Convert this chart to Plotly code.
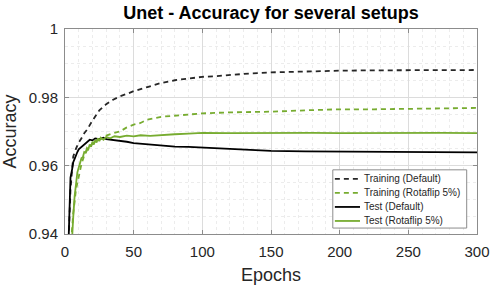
import plotly.graph_objects as go

# Training (Default)
ep_train_def = [1, 3, 4, 5, 6, 8, 10, 12, 14, 16, 18, 20, 25, 30, 35, 40, 45, 50, 60, 70, 80, 90,
                100, 110, 120, 135, 150, 175, 200, 225, 250, 275, 300]
acc_train_def = [0.920, 0.945, 0.953, 0.958, 0.9627, 0.965, 0.9668, 0.968, 0.9695, 0.9705, 0.972, 0.9732,
                 0.9762, 0.978, 0.9793, 0.9803, 0.981, 0.9818, 0.983, 0.9842, 0.985, 0.9855,
                 0.9860, 0.9862, 0.9866, 0.9870, 0.9873, 0.9876, 0.9878, 0.9879, 0.9880, 0.9881, 0.9880]

# Training (Rotaflip 5%)
ep_train_rot = [3, 5, 6, 8, 10, 12, 14, 16, 18, 20, 25, 30, 35, 40, 45, 50, 55, 60, 70, 80, 90,
                100, 120, 135, 150, 175, 200, 225, 250, 275, 300]
acc_train_rot = [0.930, 0.940, 0.946, 0.953, 0.957, 0.9605, 0.963, 0.9645, 0.9655, 0.9665, 0.9676, 0.9688,
                 0.9695, 0.970, 0.9712, 0.972, 0.9725, 0.9735, 0.9743, 0.9746, 0.975,
                 0.9753, 0.9756, 0.9757, 0.9758, 0.9762, 0.9765, 0.9765, 0.9767, 0.9767, 0.9769]

# Test (Default)
ep_test_def = [2, 3, 4, 5, 6, 7, 8, 9, 10, 12, 14, 16, 18, 20, 22, 25, 28, 30, 35, 40, 45, 50, 60, 70,
               80, 90, 100, 110, 120, 135, 150, 175, 200, 225, 250, 275, 300]
acc_test_def = [0.930, 0.945, 0.9565, 0.9585, 0.961, 0.962, 0.9632, 0.964, 0.9648, 0.9655, 0.9662, 0.967,
                0.9676, 0.9674, 0.968, 0.9678, 0.9682, 0.9678, 0.9676, 0.9672, 0.967, 0.9666, 0.9662,
                0.9658, 0.9656, 0.9655, 0.9653, 0.965, 0.9648, 0.9646, 0.9643, 0.9642, 0.9641, 0.964,
                0.964, 0.9639, 0.9639]

# Test (Rotaflip 5%)
ep_test_rot = [4, 5, 6, 7, 8, 9, 10, 11, 12, 13, 14, 15, 16, 17, 18, 19, 20, 21, 22, 23, 24, 25, 26,
               28, 30, 33, 36, 40, 45, 50, 55, 62, 70, 80, 90, 100, 120, 140, 160, 180, 200, 225,
               250, 275, 300]
acc_test_rot = [0.930, 0.940, 0.945, 0.951, 0.9555, 0.958, 0.9595, 0.961, 0.9622, 0.9625, 0.964, 0.9638,
                0.9652, 0.9648, 0.9662, 0.9655, 0.967, 0.9662, 0.9675, 0.9668, 0.968, 0.9672, 0.9682,
                0.9676, 0.9684, 0.968, 0.9686, 0.9684, 0.9688, 0.9686, 0.9689, 0.9687, 0.969, 0.9692,
                0.9694, 0.9696, 0.9695, 0.9696, 0.9695, 0.9696, 0.9695, 0.9696, 0.9695, 0.9696, 0.9695]

series_names = ["Training (Default)", "Training (Rotaflip 5%)", "Test (Default)", "Test (Rotaflip 5%)"]

x_ticks = [0, 50, 100, 150, 200, 250, 300]
y_ticks = [0.94, 0.96, 0.98, 1.0]
y_tick_labels = ["0.94", "0.96", "0.98", "1"]

GREEN = "#77AC30"
DARK = "#262626"
FONT = "Liberation Sans, Arial, sans-serif"
DASH = "5px,4px"

styles = [
    dict(color=DARK, width=1.8, dash=DASH),
    dict(color=GREEN, width=1.8, dash=DASH),
    dict(color="black", width=1.8, dash="solid"),
    dict(color=GREEN, width=1.8, dash="solid"),
]
xs = [ep_train_def, ep_train_rot, ep_test_def, ep_test_rot]
ys = [acc_train_def, acc_train_rot, acc_test_def, acc_test_rot]

fig = go.Figure()
for name, x, y, st in zip(series_names, xs, ys, styles):
    fig.add_trace(go.Scatter(x=x, y=y, mode="lines", name=name, line=st, showlegend=False))

# Manual MATLAB-style legend (compact rows), in axes-domain coordinates
box_x0, box_x1, box_y0, box_y1 = 0.650, 0.975, 0.029, 0.313
row_y = [0.269, 0.2005, 0.132, 0.0636]
sample_x0, sample_x1, text_x = 0.655, 0.716, 0.721
fig.add_shape(type="rect", xref="x domain", yref="y domain", x0=box_x0, x1=box_x1, y0=box_y0, y1=box_y1,
              line=dict(color="#8c8c8c", width=1), fillcolor="white", layer="above")
for name, st, ry in zip(series_names, styles, row_y):
    fig.add_shape(type="line", xref="x domain", yref="y domain", x0=sample_x0, x1=sample_x1, y0=ry, y1=ry,
                  line=st, layer="above")
    fig.add_annotation(xref="x domain", yref="y domain", x=text_x, y=ry, text=name, showarrow=False,
                       xanchor="left", yanchor="middle", font=dict(family=FONT, size=10, color=DARK))

axis_common = dict(
    showline=True, linecolor="#8c8c8c", linewidth=1, mirror="ticks",
    ticks="inside", ticklen=4, tickcolor="#8c8c8c",
    showgrid=True, gridcolor="#dcdcdc", gridwidth=1,
    zeroline=False,
    tickfont=dict(family=FONT, size=15, color=DARK),
)

fig.update_layout(
    width=498, height=290,
    margin=dict(l=65, r=21, t=29, b=56, autoexpand=False),
    paper_bgcolor="white", plot_bgcolor="white",
    font=dict(family=FONT, color=DARK),
    title=dict(text="<b>Unet - Accuracy for several setups</b>", x=(65 + 477) / 2 / 498, xanchor="center",
               y=1 - 13 / 290, yanchor="middle", font=dict(family=FONT, size=18, color="black")),
    showlegend=False,
)
fig.update_xaxes(range=[0, 300], tickvals=x_ticks, ticktext=[str(v) for v in x_ticks],
                 ticklabelstandoff=4,
                 title=dict(text="Epochs", font=dict(family=FONT, size=18, color=DARK), standoff=9),
                 minor=dict(dtick=10, showgrid=True, gridcolor="#ececec", griddash="dot", ticks=""),
                 **axis_common)
fig.update_yaxes(range=[0.94, 1.0], tickvals=y_ticks, ticktext=y_tick_labels,
                 ticklabelstandoff=3,
                 title=dict(text="Accuracy", font=dict(family=FONT, size=18, color=DARK), standoff=7),
                 minor=dict(dtick=0.005, tick0=0.94, showgrid=True, gridcolor="#ececec", griddash="dot", ticks=""),
                 **axis_common)

fig.write_html("out.html", config={"displayModeBar": False},
               post_script="document.body.style.margin='0px';")
